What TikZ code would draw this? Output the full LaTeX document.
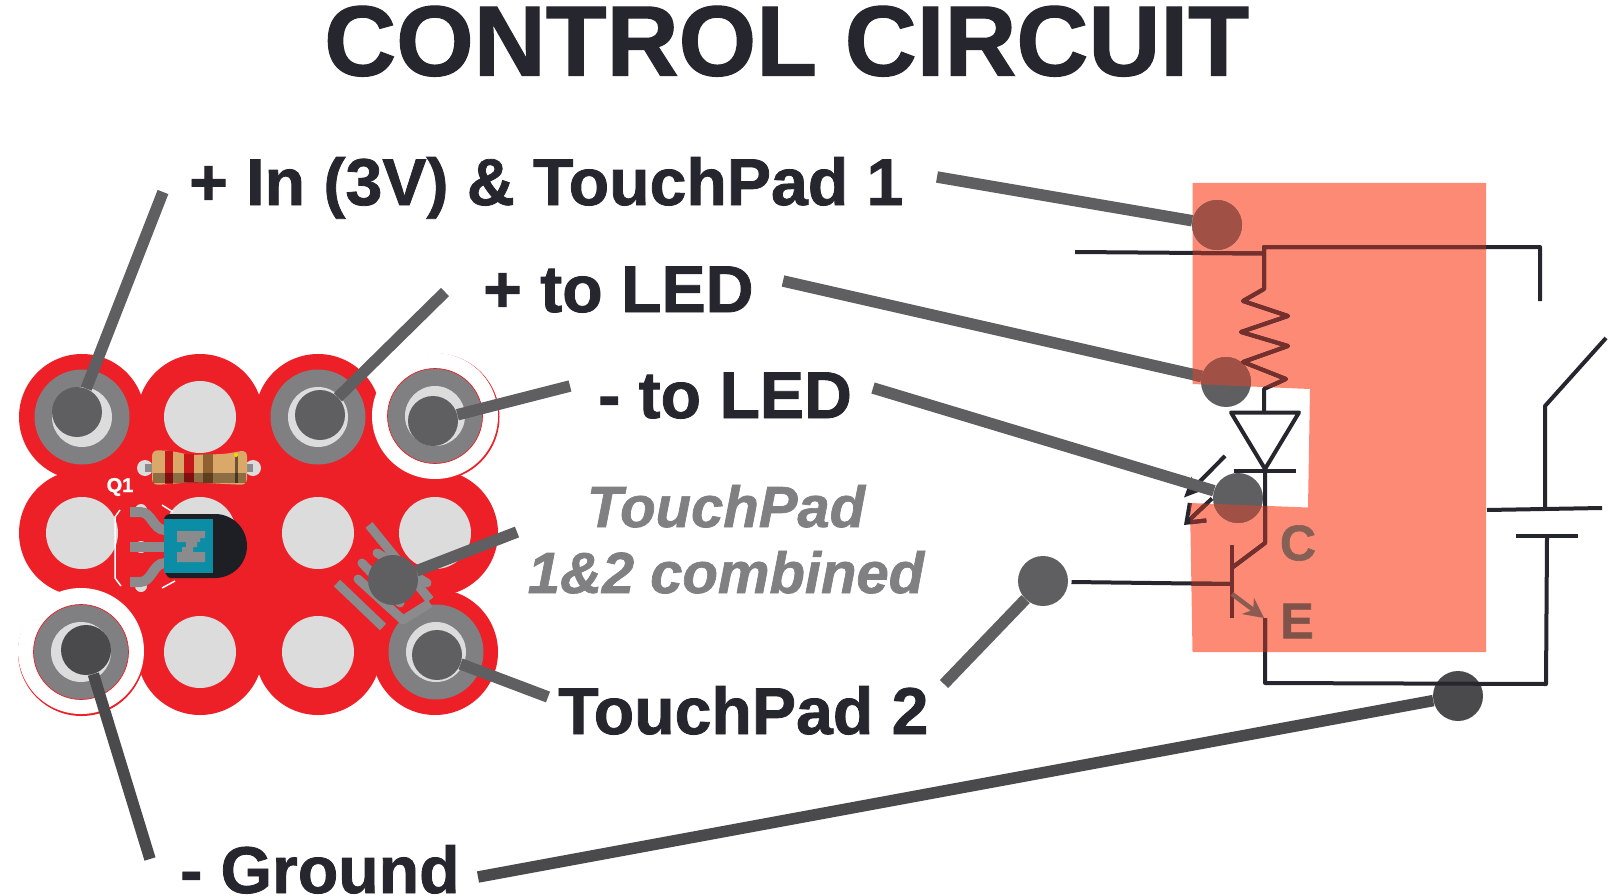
\documentclass[tikz,border=0pt]{standalone}
\usepackage{fontspec}
\setmainfont{Liberation Sans}[BoldFeatures={FakeBold=1.2},BoldItalicFeatures={FakeBold=1.2}]
\usetikzlibrary{arrows.meta}
\definecolor{boardred}{HTML}{ED2027}
\definecolor{padgray}{HTML}{808083}
\definecolor{holegray}{HTML}{DCDCDC}
\definecolor{tracegray}{HTML}{8B8B8E}
\definecolor{leadgray}{HTML}{5F5F62}
\definecolor{leaddark}{HTML}{4A4A4D}
\definecolor{inkdark}{HTML}{26262E}
\definecolor{salmon}{HTML}{FC8A75}
\definecolor{tintdot}{HTML}{A05045}
\definecolor{tintwire}{HTML}{75302E}
\definecolor{chipteal}{HTML}{0B8DA5}
\definecolor{arrowbrown}{HTML}{8B5A50}
\tikzset{
  title/.style={font=\fontsize{99.7}{100}\selectfont\bfseries, text=inkdark, anchor=base west, inner sep=0},
  label/.style={font=\fontsize{66.2}{67}\selectfont\bfseries, text=inkdark, anchor=base west, inner sep=0},
  note/.style={font=\fontsize{58}{58}\selectfont\bfseries\itshape, text=padgray, anchor=base, inner sep=0},
  dot/.style={circle, fill=leadgray, minimum size=50pt, inner sep=0},
  darkdot/.style={dot, fill=leaddark},
  leader/.style={draw=leadgray, line width=11.5pt},
  darkleader/.style={leader, draw=leaddark},
  wire/.style={draw=inkdark, line width=4pt, line join=round},
  led/.style={wire, line width=4pt},
  trace/.style={draw=tracegray, line width=9pt},
  pad/.style={circle, fill=padgray, minimum size=95pt, inner sep=0},
  hole/.style={circle, fill=holegray, minimum size=72pt, inner sep=0},
  ring/.style={circle, fill=holegray, minimum size=60pt, inner sep=0},
}
% everything of the circuit that the salmon sheet tints
\newcommand{\ledarrows}{
  \draw[led, -{Stealth[length=20pt,width=18pt]}] (1225,456) -- (1184,497.5);
  \draw[led, -{Straight Barb[length=16pt,width=24pt]}] (1212,498.5) -- (1184,525);
}
\newcommand{\circuitwires}{
  \draw[wire] (1075,252) -- (1264,253.5);
  \draw[wire] (1540,301) -- (1540,247) -- (1264,247) -- (1264,289) -- (1243,301) -- (1288,316) -- (1241,332) -- (1288,346) -- (1243,362) -- (1286,379) -- (1264,389) -- (1264,412);
  \draw[wire] (1231,412.5) -- (1299,412.5) -- (1265,469) -- cycle;
  \draw[wire] (1233.5,471) -- (1296,471);
  \draw[wire] (1265,469) -- (1265,543) -- (1233,567);
  \draw[wire] (1232,545) -- (1232,618);
  \draw[wire] (1071.5,582) -- (1232,584);
  \draw[wire] (1265,618) -- (1265,683) -- (1546,684) -- (1547,537);
}
\begin{document}
\begin{tikzpicture}[x=1pt,y=-1pt]
  \useasboundingbox (0,0) rectangle (1608,896);
  %title
  \node[title] (heading) at (324,75.5) {CONTROL CIRCUIT};
  %board
  \foreach \px in {82,200,318,435}
    \foreach \py in {417,533,652}
      \fill[boardred] (\px,\py) circle (63);
  \fill[boardred] (82,417) rectangle (435,652);
  %white cut outs at two corners
  \fill[boardred] (436,417) circle (63.5);
  \fill[white] (435,416) circle (63);
  \fill[boardred] (81.5,652.5) circle (63.5);
  \fill[white] (81,651) circle (63);
  %holes
  \foreach \px/\py in {200/417,82/533,200/533,318/533,435/533,200/652,318/652}
    \node[hole] at (\px,\py) {};
  %pads
  \foreach \px/\py in {82/417,318/417,435/416,81/652,436/652} {
    \node[pad] at (\px,\py) {};
    \node[ring] at (\px,\py) {};
  }
  \draw[boardred, line width=.7pt] (435,416) circle (47.5);
  \draw[boardred, line width=.7pt] (81,652) circle (47.5);
  %traces under the touchpad
  \draw[trace] (369,525) -- (430,600);
  \draw[trace] (337,583) -- (383,627);
  \draw[trace, line cap=round] (358,579) -- (403,620);
  \draw[trace, line cap=round] (362,563) -- (400,603);
  \draw[trace, line cap=round] (377,553) -- (427,583);
  \draw[trace] (403,620) -- (430,603);
  %resistor
  \fill[holegray] (145,468) circle (8);
  \fill[holegray] (253,468) circle (8);
  \draw[line width=8pt, tracegray] (145,468) -- (253,468);
  \fill[rounded corners=6pt, fill={rgb,255:red,218;green,168;blue,104}] (152,450) -- (172,451) -- (190,455) -- (225,454) -- (247,450) -- (247,485) -- (225,484) -- (190,482) -- (172,484) -- (152,485) -- cycle;
  \fill[red!75!black!90!white] (165,451) rectangle (173,484);
  \fill[red!75!black!90!white] (184,454) rectangle (194,482);
  \fill[brown!75!black] (203,454) rectangle (213,483);
  \fill[black, opacity=.35] (153,473) rectangle (246,483);
  \fill[black, opacity=.5] (235,456) rectangle (238,483);
  \fill[yellow!80!olive] (236,455) circle (2);
  %Q1
  \node[font=\fontsize{20}{20}\selectfont\bfseries, text=white, inner sep=0] (qlabel) at (120,487) {Q1};
  \draw[white, line width=1.5pt] (120,510) -- (115,517) -- (115,578) -- (121,586);
  \draw[white, line width=1.5pt] (162,505) -- (173,512);
  \draw[white, line width=1.5pt] (162,588) -- (175,581);
  \foreach \py in {510,547,586}
    \fill[holegray] (141,\py) circle (6);
  %transistor on the board
  \draw[tracegray, line width=10pt] (130,512) -- (140,512) to[out=0,in=180] (165,530);
  \draw[tracegray, line width=10pt] (130,547) -- (165,547);
  \draw[tracegray, line width=10pt] (130,582) -- (140,582) to[out=0,in=180] (165,563);
  \fill[black!20!inkdark] (170,514) -- (215,514) arc (-90:90:32) -- (170,578) to[out=180,in=90] (164,572) -- (164,520) to[out=90,in=180] cycle;
  \fill[chipteal] (164,519) rectangle (213,573);
  \fill[tracegray] (177,531) -- (205,531) -- (205,538) -- (200,538) -- (200,542) -- (197,542) -- (197,547) -- (193,547) -- (193,552) -- (205,552) -- (205,562) -- (177,562) -- (177,552) -- (182,552) -- (182,547) -- (186,547) -- (186,542) -- (177,542) -- cycle;
  %sheet
  \fill[salmon] (1192.5,183) -- (1486,183) -- (1486,652) -- (1192.5,652) -- (1190,503) -- (1308,507.5) -- (1310,389) -- (1192.5,384) -- cycle;
  %labels
  \node[label] (inLabel) at (189,205) {+ In (3V) \& TouchPad 1};
  \node[label] (plusLabel) at (483,312) {+ to LED};
  \node[label] (minusLabel) at (598,418) {- to LED};
  \node[label] (padLabel) at (558,734) {TouchPad 2};
  \node[label] (groundLabel) at (180,893) {- Ground};
  \node[note] (noteOne) at (726,527) {TouchPad};
  \node[note] (noteTwo) at (726,593) {1\&2 combined};
  %free ends of the leaders
  \coordinate (inTail) at (163,192);
  \coordinate (plusTail) at (445,292);
  \coordinate (minusTail) at (570,386);
  \coordinate (noteTail) at (517,532);
  \coordinate (padTail) at (548,697);
  \coordinate (groundTail) at (150,859);
  \coordinate (inWire) at (937,177);
  \coordinate (plusWire) at (783,281);
  \coordinate (minusWire) at (873,388);
  \coordinate (baseTail) at (944,684);
  \coordinate (groundWire) at (478,877);
  %dots on the board
  \node[dot] (inPad) at (77,412) {};
  \node[dot] (plusPad) at (320,415) {};
  \node[dot] (minusPad) at (433,421) {};
  \node[dot] (notePad) at (393,580) {};
  \node[dot] (padPad) at (437,655) {};
  \node[darkdot] (groundPad) at (86,650) {};
  \draw[leader] (inTail) -- (inPad);
  \draw[leader] (plusTail) -- (plusPad);
  \draw[leader] (minusTail) -- (minusPad);
  \draw[leader] (noteTail) -- (notePad);
  \draw[leader] (padTail) -- (padPad);
  \draw[darkleader] (groundTail) -- (groundPad);
  %circuit
  \ledarrows
  \node[dot] (inDot) at (1217,225) {};
  \node[dot] (plusDot) at (1226,382) {};
  \node[dot] (minusDot) at (1238,498) {};
  \node[dot] (baseDot) at (1043,581) {};
  \node[darkdot] (groundDot) at (1458,696) {};
  \draw[leader] (inWire) -- (inDot);
  \draw[leader] (plusWire) -- (plusDot);
  \draw[leader] (minusWire) -- (minusDot);
  \draw[leader] (baseTail) -- (baseDot);
  \draw[darkleader] (groundWire) -- (groundDot);
  \circuitwires
  %battery and switch
  \draw[wire] (1487,510) -- (1602,508);
  \draw[wire] (1516,536) -- (1578,536);
  \draw[wire] (1545,509) -- (1545,406) -- (1606,338);
  %what lies under the sheet
  \begin{scope}[wire/.style={draw=tintwire, line width=4pt, line join=round}]
    \clip (1192.5,183) -- (1486,183) -- (1486,652) -- (1192.5,652) -- (1190,503) -- (1308,507.5) -- (1310,389) -- (1192.5,384) -- cycle;
    \ledarrows
    \fill[tintdot] (inDot) circle (25);
    \fill[tintdot] (plusDot) circle (25);
    \fill[tintdot] (minusDot) circle (25);
    \draw[leader, draw=tintdot] (plusWire) -- (plusDot);
    \circuitwires
  \end{scope}
  %emitter arrow and letters
  \draw[draw=arrowbrown, line width=4.5pt, -{Stealth[length=20pt,width=20pt]}] (1232,594) -- (1264,618);
  \node[font=\fontsize{50}{50}\selectfont\bfseries, text={rgb,255:red,134;green,96;blue,85}, inner sep=0] (collector) at (1298,543) {C};
  \node[font=\fontsize{50}{50}\selectfont\bfseries, text={rgb,255:red,127;green,83;blue,73}, inner sep=0] (emitter) at (1297,621) {E};
\end{tikzpicture}
\end{document}
